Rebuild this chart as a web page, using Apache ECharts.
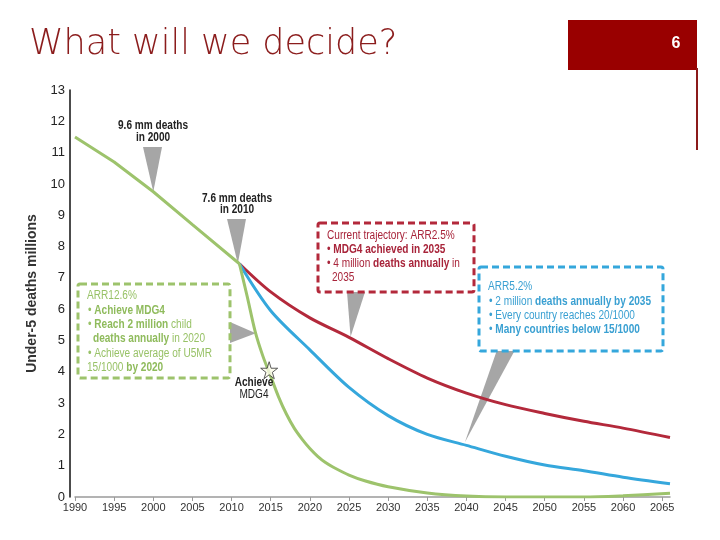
<!DOCTYPE html>
<html>
<head>
<meta charset="utf-8">
<script src="https://cdn.jsdelivr.net/npm/echarts@6/dist/echarts.min.js"></script>
<style>
  html, body { margin: 0; padding: 0; background: #fff; }
  #main { width: 720px; height: 540px; }
</style>
</head>
<body>
<div id="main"></div>
<script>
// x axis tick labels
var tickYears = [1990, 1995, 2000, 2005, 2010, 2015, 2020, 2025, 2030, 2035, 2040, 2045, 2050, 2055, 2060, 2065];

// history (green, up to the split point)
var pastYears = [1990, 1995, 2000, 2005, 2011];
var pastValues = [11.5, 10.7, 9.75, 8.7, 7.45];

// ARR 12.6% (green)
var greenYears = [2011, 2012, 2013, 2014, 2015, 2016, 2017, 2018, 2019, 2020, 2021, 2022, 2023, 2025, 2027, 2030, 2035, 2040, 2045, 2050, 2055, 2060, 2066];
var greenValues = [7.45, 6.4, 5.3, 4.5, 3.85, 3.2, 2.65, 2.2, 1.85, 1.55, 1.3, 1.1, 0.95, 0.7, 0.52, 0.33, 0.13, 0.03, 0.0, 0.0, 0.0, 0.04, 0.12];

// ARR 5.2% (blue)
var blueYears = [2011, 2015, 2020, 2025, 2030, 2035, 2040, 2045, 2050, 2055, 2060, 2066];
var blueValues = [7.45, 5.95, 4.7, 3.5, 2.6, 2.0, 1.65, 1.3, 1.02, 0.84, 0.63, 0.42];

// current trajectory ARR 2.5% (red)
var redYears = [2011, 2015, 2020, 2025, 2030, 2035, 2040, 2045, 2050, 2055, 2060, 2066];
var redValues = [7.45, 6.55, 5.72, 5.1, 4.42, 3.8, 3.32, 2.95, 2.67, 2.42, 2.2, 1.9];

// "Achieve MDG4" star
var starPoint = [2014.8, 4.05];

// where the grey callouts point
var calloutTips = [[2000, 9.75], [2010.8, 7.45], [2013.1, 5.23], [2025.2, 5.12], [2039.8, 1.75]];

function pairs(xs, ys) {
  return xs.map(function (x, i) { return [x, ys[i]]; });
}

var narrow = "'Liberation Sans', Arial, sans-serif";
var green = '#9dc36c';
var red = '#b3293b';
var blue = '#35a7dc';

var myChart = echarts.init(document.getElementById('main'));
var option = {
  animation: false,
  backgroundColor: '#fff',
  grid: { left: 75, right: 50, top: 90, bottom: 43 },
  xAxis: {
    type: 'value',
    min: 1990,
    max: 2066,
    axisLine: { lineStyle: { color: '#9a9a9a', width: 1.5 } },
    axisTick: { customValues: tickYears, length: 4, lineStyle: { color: '#9a9a9a' } },
    axisLabel: {
      customValues: tickYears,
      formatter: function (v) { return String(v); },
      color: '#333', fontSize: 11, fontFamily: narrow, margin: 5
    },
    splitLine: { show: false }
  },
  yAxis: {
    type: 'value',
    min: 0,
    max: 13,
    interval: 1,
    offset: 5,
    axisLine: { show: true, lineStyle: { color: '#111', width: 1.5 } },
    axisTick: { show: false },
    splitLine: { show: false },
    axisLabel: { color: '#222', fontSize: 13, fontFamily: 'Liberation Sans, Arial', margin: 5 },
    name: 'Under-5 deaths millions',
    nameLocation: 'middle',
    nameRotate: 90,
    nameGap: 28,
    nameTextStyle: { fontWeight: 'bold', fontSize: 14, color: '#333', fontFamily: narrow }
  },
  series: [
    {
      name: 'ARR2.5%',
      type: 'line',
      data: pairs(redYears, redValues),
      smooth: 0.3,
      showSymbol: false,
      lineStyle: { color: red, width: 3 }
    },
    {
      name: 'ARR5.2%',
      type: 'line',
      data: pairs(blueYears, blueValues),
      smooth: 0.3,
      showSymbol: false,
      lineStyle: { color: blue, width: 3 }
    },
    {
      name: 'history',
      type: 'line',
      data: pairs(pastYears, pastValues),
      showSymbol: false,
      lineStyle: { color: green, width: 3 }
    },
    {
      name: 'ARR12.6%',
      type: 'line',
      data: pairs(greenYears, greenValues),
      smooth: 0.3,
      showSymbol: false,
      lineStyle: { color: green, width: 3 }
    },
    {
      name: 'MDG4',
      type: 'scatter',
      data: [starPoint],
      symbol: 'path://M50,0 L61,35 L98,35 L68,57 L79,91 L50,70 L21,91 L32,57 L2,35 L39,35 Z',
      symbolSize: 17,
      itemStyle: { color: '#fbfbe8', borderColor: '#333', borderWidth: 1 },
      z: 5
    }
  ]
};
myChart.setOption(option);

// callout triangles: base in pixels, tip from the data
var bases = [
  [[143, 147], [162, 147]],
  [[227, 219], [246, 219]],
  [[230, 322], [230, 343]],
  [[347, 292], [365, 292]],
  [[497, 350], [515, 350]]
];
var graphics = [];
calloutTips.forEach(function (tip, i) {
  var p = myChart.convertToPixel({ gridIndex: 0 }, tip);
  graphics.push({
    type: 'polygon',
    shape: { points: [bases[i][0], bases[i][1], p] },
    style: { fill: '#a6a6a6' },
    z: 3
  });
});

function box(x, y, w, h, color) {
  return {
    type: 'rect',
    shape: { x: x, y: y, width: w, height: h, r: 2 },
    style: { fill: '#fff', stroke: color, lineWidth: 3, lineDash: [7, 4] },
    z: 4
  };
}
function line(x, y, rich, t, align) {
  return {
    type: 'text',
    x: x,
    y: y,
    scaleX: 0.84,
    style: {
      text: t,
      rich: rich,
      fontFamily: narrow,
      fontSize: 12,
      align: align || 'left',
      verticalAlign: 'middle'
    },
    z: 6
  };
}

function richSet(c1, c2) {
  return {
    n: { fill: c1, fontSize: 12, fontFamily: narrow },
    b: { fill: c2, fontSize: 12, fontWeight: 'bold', fontFamily: narrow }
  };
}
var gRich = richSet('#98c267', '#8fbb5c');
var rRich = richSet('#a8243a', '#a8243a');
var bRich = richSet('#3aa0d2', '#3aa0d2');
var kRich = richSet('#222', '#222');

graphics.push(
  // title
  {
    type: 'text', x: 29, y: 45,
    style: { text: 'What will we decide?', fill: '#8b1c1c', fontSize: 35, fontWeight: 200,
      fontFamily: "'DejaVu Sans', sans-serif", verticalAlign: 'middle' }
  },
  // slide number box
  { type: 'rect', shape: { x: 568, y: 20, width: 129, height: 50 }, style: { fill: '#990000' } },
  { type: 'line', shape: { x1: 697, y1: 68, x2: 697, y2: 150 }, style: { stroke: '#8b1a1a', lineWidth: 2 } },
  {
    type: 'text', x: 676, y: 44,
    style: { text: '6', fill: '#fff', fontSize: 16, fontWeight: 'bold', fontFamily: 'Liberation Sans, Arial',
      align: 'center', verticalAlign: 'middle' }
  },

  // point labels
  line(153, 126, kRich, '{b|9.6 mm deaths}', 'center'),
  line(153, 138, kRich, '{b|in 2000}', 'center'),
  line(237, 199, kRich, '{b|7.6 mm deaths}', 'center'),
  line(237, 210, kRich, '{b|in 2010}', 'center'),
  line(254, 383, kRich, '{b|Achieve}', 'center'),
  line(254, 395, kRich, '{n|MDG4}', 'center'),

  // ARR 12.6% box
  box(78, 284, 152, 94, green),
  line(87, 296, gRich, '{n|ARR12.6%}'),
  line(88, 311, gRich, '{n|•} {b|Achieve MDG4}'),
  line(88, 325, gRich, '{n|•} {b|Reach 2 million} {n|child}'),
  line(93, 339, gRich, '{b|deaths annually} {n|in 2020}'),
  line(88, 354, gRich, '{n|• Achieve average of U5MR}'),
  line(87, 368, gRich, '{n|15/1000} {b|by 2020}'),

  // current trajectory box
  box(318, 223, 156, 69, red),
  line(327, 236, rRich, '{n|Current trajectory: ARR2.5%}'),
  line(327, 250, rRich, '{n|•} {b|MDG4 achieved in 2035}'),
  line(327, 264, rRich, '{n|• 4 million} {b|deaths annually} {n|in}'),
  line(332, 278, rRich, '{n|2035}'),

  // ARR 5.2% box
  box(479, 267, 184, 84, blue),
  line(488, 287, bRich, '{n|ARR5.2%}'),
  line(489, 302, bRich, '{n|• 2 million} {b|deaths annually by 2035}'),
  line(489, 316, bRich, '{n|• Every country reaches 20/1000}'),
  line(489, 330, bRich, '{n|•} {b|Many countries below 15/1000}')
);

myChart.setOption({ graphic: graphics });
</script>
</body>
</html>
